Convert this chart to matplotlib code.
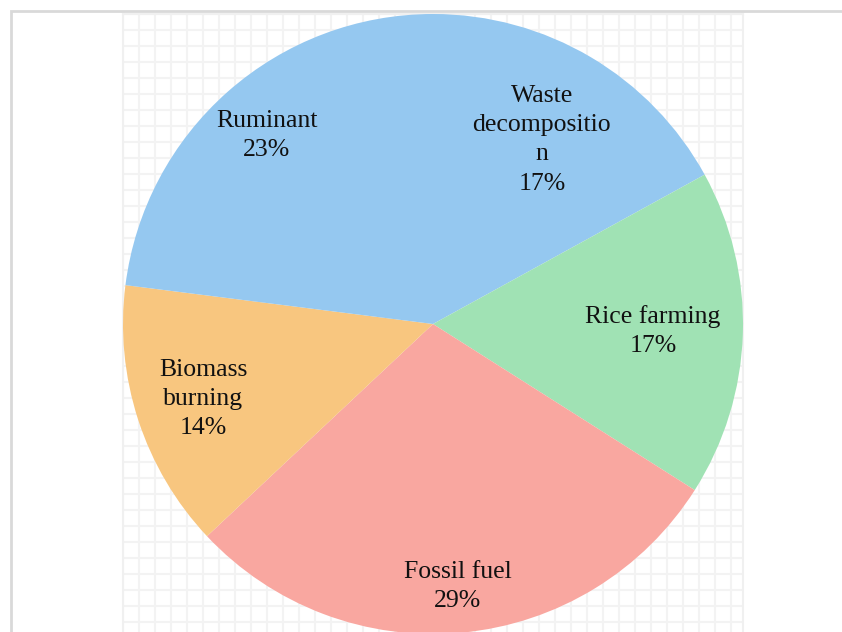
import matplotlib
matplotlib.use("Agg")
import matplotlib.pyplot as plt
import numpy as np
from matplotlib.patches import Rectangle

# Methane sources, clockwise from 12 o'clock
labels = ["Waste\ndecompositio\nn", "Rice farming", "Fossil fuel", "Biomass\nburning", "Ruminant"]
shares = [17, 17, 29, 14, 23]
colors = ["#95C8F0", "#A0E2B4", "#F9A7A0", "#F8C67F", "#95C8F0"]
# distance of each data label from the centre (fraction of radius)
label_r = [0.69, 0.71, 0.85, 0.78, 0.81]

W, H = 842, 632
fig = plt.figure(figsize=(W / 100, H / 100), dpi=100)
fig.patch.set_facecolor("white")

# outer chart frame (runs off the right and bottom of the picture)
fig.patches.append(Rectangle((11 / W, -0.1), 1.2, 1 - 11 / H + 0.1,
                             transform=fig.transFigure, fill=False,
                             edgecolor="#D9D9D9", linewidth=2))

rect = [123 / W, 1 - 634 / H, 620 / W, 620 / H]

# light grid behind the pie
bg = fig.add_axes(rect, zorder=0)
bg.set_xlim(0, 620)
bg.set_ylim(620, 0)
bg.set_xticks(np.arange(0, 621, 16))
bg.set_yticks(np.arange(0, 621, 16))
bg.grid(True, color="#F3F3F3", linewidth=1.5)
bg.tick_params(length=0, labelbottom=False, labelleft=False)
for sp in bg.spines.values():
    sp.set_color("#F0F0F0")
    sp.set_linewidth(1.5)

ax = fig.add_axes(rect, zorder=1)
ax.patch.set_alpha(0)
wedges, _ = ax.pie(shares, colors=colors, startangle=90, counterclock=False,
                   radius=1, wedgeprops=dict(linewidth=0))
ax.set_xlim(-1, 1)
ax.set_ylim(-1, 1)
ax.axis("off")

for w, lab, val, r in zip(wedges, labels, shares, label_r):
    ang = np.deg2rad((w.theta1 + w.theta2) / 2)
    ax.text(r * np.cos(ang), r * np.sin(ang), f"{lab}\n{val}%",
            ha="center", va="center", multialignment="center",
            fontsize=18.5, family="Liberation Serif", color="#111111",
            linespacing=1.42)

fig.savefig("out.png", dpi=100)
